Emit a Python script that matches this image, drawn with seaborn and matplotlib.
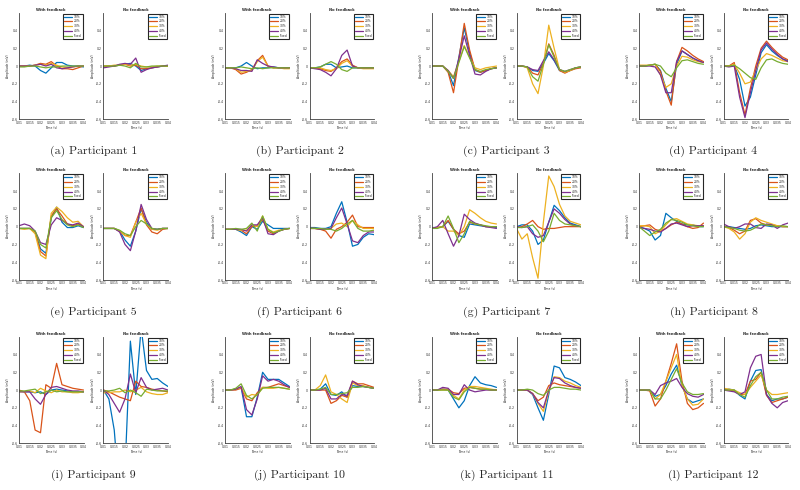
import pandas as pd
import seaborn as sns
import matplotlib.pyplot as plt

# time axis (s), one sample every 2.5 ms
time_s = [0.01, 0.0125, 0.015, 0.0175, 0.02, 0.0225, 0.025, 0.0275, 0.03, 0.0325, 0.035, 0.0375, 0.04]
levels = ['10%', '20%', '30%', '40%', 'Fixed']
captions = ['(a) Participant 1', '(b) Participant 2', '(c) Participant 3', '(d) Participant 4',
            '(e) Participant 5', '(f) Participant 6', '(g) Participant 7', '(h) Participant 8',
            '(i) Participant 9', '(j) Participant 10', '(k) Participant 11', '(l) Participant 12']

# amplitude (mV); rows = 10%, 20%, 30%, 40%, Fixed
p1_with = [
    [0, 0, 0.01, 0, -0.05, -0.08, -0.02, 0.04, 0.04, 0.01, 0, 0, -0.01],
    [0, 0, 0, 0.01, 0.03, 0.02, 0.05, 0.0, -0.03, -0.03, -0.04, -0.02, 0],
    [0, 0, 0, 0.01, 0.02, 0.01, 0.03, 0.01, -0.01, -0.02, -0.01, 0, 0],
    [0, 0, 0, 0.01, 0.02, 0.0, 0.02, -0.02, -0.03, -0.02, -0.01, 0, 0],
    [-0.01, -0.01, 0, 0, -0.01, -0.02, -0.01, -0.01, 0, 0, 0, 0, 0]]
p1_without = [
    [-0.01, 0, 0, 0.01, 0.02, 0.03, 0.0, -0.05, -0.03, -0.02, -0.01, 0, 0],
    [0, 0, 0, 0.01, 0.02, 0.0, 0.01, -0.03, -0.03, -0.02, -0.01, 0, 0],
    [0, 0, 0.01, 0.01, 0.02, 0.01, 0.02, 0.0, -0.01, -0.01, 0, 0, 0],
    [-0.02, -0.01, 0, 0.02, 0.03, 0.02, 0.09, -0.07, -0.04, -0.02, -0.01, 0, 0.01],
    [0, 0, 0, 0.01, 0.0, -0.02, 0.03, -0.01, -0.01, 0, 0, 0, 0]]

p2_with = [
    [-0.02, -0.02, -0.02, 0.0, 0.04, 0.0, -0.03, -0.02, -0.02, -0.01, -0.02, -0.02, -0.02],
    [-0.02, -0.02, -0.04, -0.09, -0.07, -0.04, 0.06, 0.12, 0.0, -0.02, -0.02, -0.02, -0.02],
    [-0.02, -0.02, -0.03, -0.07, -0.06, -0.05, 0.05, 0.10, 0.0, -0.02, -0.02, -0.03, -0.03],
    [-0.02, -0.02, -0.03, -0.05, -0.05, -0.06, 0.07, 0.03, 0.0, -0.01, -0.02, -0.02, -0.02],
    [-0.02, -0.02, -0.02, -0.01, -0.02, -0.03, -0.02, -0.03, -0.02, -0.02, -0.02, -0.02, -0.02]]
p2_without = [
    [-0.02, -0.02, -0.01, 0.02, 0.02, -0.02, -0.01, 0.0, -0.02, -0.02, -0.02, -0.02, -0.02],
    [-0.02, -0.02, -0.03, -0.05, -0.06, -0.02, 0.05, 0.08, 0.01, -0.02, -0.02, -0.02, -0.02],
    [-0.02, -0.02, -0.02, -0.04, -0.05, -0.03, 0.03, 0.06, 0.0, -0.02, -0.03, -0.03, -0.03],
    [-0.02, -0.03, -0.04, -0.07, -0.11, -0.03, 0.12, 0.18, 0.0, -0.02, -0.02, -0.02, -0.02],
    [-0.02, -0.02, -0.01, 0.02, 0.05, 0.02, -0.04, -0.06, -0.02, -0.02, -0.02, -0.02, -0.02]]

p3_with = [
    [0, 0, 0, -0.06, -0.22, 0.1, 0.43, 0.15, -0.05, -0.07, -0.05, -0.03, -0.02],
    [0, 0, 0, -0.07, -0.30, 0.08, 0.48, 0.18, -0.04, -0.07, -0.05, -0.03, -0.02],
    [0, 0, 0, -0.05, -0.12, 0.05, 0.23, 0.10, -0.02, -0.04, -0.02, -0.01, 0.0],
    [0, 0, 0, -0.05, -0.14, 0.08, 0.34, 0.12, -0.09, -0.10, -0.06, -0.03, -0.02],
    [0, 0, 0, -0.06, -0.14, 0.04, 0.22, 0.09, -0.04, -0.06, -0.04, -0.03, -0.02]]
p3_without = [
    [0, 0, -0.01, -0.05, -0.06, 0.03, 0.14, 0.06, -0.05, -0.07, -0.05, -0.02, -0.01],
    [0, 0, -0.01, -0.08, -0.10, 0.03, 0.25, 0.12, -0.05, -0.08, -0.05, -0.03, -0.02],
    [0, 0, -0.02, -0.20, -0.31, 0.0, 0.46, 0.20, -0.04, -0.07, -0.05, -0.02, -0.01],
    [0, 0, -0.01, -0.04, -0.05, 0.06, 0.16, 0.07, -0.04, -0.06, -0.04, -0.02, -0.01],
    [0, 0, -0.01, -0.12, -0.17, 0.02, 0.24, 0.10, -0.04, -0.06, -0.04, -0.02, -0.01]]

p4_with = [
    [0, 0, 0.01, 0.02, -0.05, -0.25, -0.40, 0.02, 0.17, 0.13, 0.09, 0.06, 0.04],
    [0, 0, 0.01, 0.02, -0.06, -0.28, -0.44, 0.05, 0.21, 0.17, 0.12, 0.08, 0.05],
    [0.01, 0.01, 0.01, 0.02, -0.10, -0.24, -0.20, 0.0, 0.11, 0.10, 0.07, 0.05, 0.04],
    [0, 0, 0.0, -0.01, -0.10, -0.30, -0.30, 0.05, 0.17, 0.13, 0.09, 0.06, 0.04],
    [0, 0, 0.01, 0.02, 0.0, -0.08, -0.12, -0.02, 0.06, 0.07, 0.05, 0.03, 0.02]]
p4_without = [
    [0, 0, 0.01, -0.15, -0.45, -0.35, -0.10, 0.15, 0.24, 0.17, 0.12, 0.08, 0.06],
    [0, 0, 0.04, -0.30, -0.55, -0.25, 0.0, 0.20, 0.28, 0.21, 0.15, 0.10, 0.07],
    [0, 0, 0.02, -0.08, -0.20, -0.18, -0.05, 0.08, 0.14, 0.12, 0.09, 0.06, 0.05],
    [0, -0.01, 0.0, -0.35, -0.58, -0.30, -0.05, 0.18, 0.26, 0.19, 0.13, 0.08, 0.05],
    [0, 0, 0.01, -0.03, -0.08, -0.13, -0.15, -0.02, 0.07, 0.08, 0.05, 0.03, 0.02]]

p5_with = [
    [-0.02, -0.02, -0.02, -0.06, -0.25, -0.30, 0.10, 0.22, 0.05, -0.01, -0.01, 0.01, -0.01],
    [-0.02, -0.02, -0.02, -0.06, -0.28, -0.33, 0.12, 0.20, 0.12, 0.03, 0.01, 0.03, 0.0],
    [-0.02, -0.03, -0.02, -0.08, -0.32, -0.36, 0.15, 0.22, 0.17, 0.10, 0.05, 0.06, 0.0],
    [0.01, 0.03, 0.01, -0.05, -0.18, -0.20, 0.02, 0.10, 0.07, 0.03, 0.02, 0.04, 0.0],
    [-0.02, -0.02, -0.02, -0.05, -0.20, -0.24, 0.10, 0.18, 0.08, 0.02, 0.0, 0.02, -0.01]]
p5_without = [
    [-0.02, -0.02, -0.02, -0.05, -0.15, -0.22, -0.05, 0.20, 0.05, -0.03, -0.03, -0.02, -0.02],
    [-0.02, -0.02, -0.02, -0.05, -0.10, -0.10, 0.05, 0.21, 0.02, -0.06, -0.08, -0.03, -0.02],
    [-0.02, -0.02, -0.02, -0.05, -0.10, -0.12, 0.05, 0.15, 0.03, -0.03, -0.04, -0.02, -0.02],
    [-0.02, -0.02, -0.02, -0.06, -0.20, -0.27, -0.05, 0.25, 0.08, -0.02, -0.03, -0.02, -0.02],
    [-0.02, -0.02, -0.02, -0.04, -0.08, -0.10, 0.0, 0.07, 0.03, -0.02, -0.03, -0.02, -0.02]]

p6_with = [
    [-0.03, -0.03, -0.03, -0.06, -0.10, 0.0, -0.03, 0.06, 0.02, -0.02, -0.02, -0.02, -0.02],
    [-0.03, -0.03, -0.03, -0.04, -0.08, 0.0, 0.01, 0.08, -0.05, -0.08, -0.05, -0.03, -0.02],
    [-0.03, -0.03, -0.03, -0.04, -0.04, 0.02, 0.0, 0.12, -0.03, -0.06, -0.04, -0.03, -0.02],
    [-0.03, -0.03, -0.03, -0.03, -0.05, 0.02, 0.02, 0.10, -0.08, -0.09, -0.05, -0.03, -0.02],
    [-0.03, -0.03, -0.02, -0.03, -0.02, 0.04, -0.05, 0.12, -0.03, -0.07, -0.05, -0.03, -0.02]]
p6_without = [
    [-0.01, -0.01, -0.02, -0.02, 0.0, 0.15, 0.28, 0.05, -0.22, -0.20, -0.12, -0.08, -0.09],
    [-0.02, -0.02, -0.03, -0.05, -0.13, -0.03, 0.0, 0.05, 0.13, 0.0, -0.01, -0.01, -0.01],
    [-0.02, -0.02, -0.03, -0.03, -0.02, 0.03, 0.04, 0.0, 0.07, 0.02, -0.02, -0.02, -0.02],
    [-0.02, -0.02, -0.03, -0.03, -0.02, 0.10, 0.21, 0.03, -0.16, -0.18, -0.10, -0.06, -0.06],
    [-0.02, -0.02, -0.02, -0.03, -0.03, -0.05, -0.02, 0.03, 0.07, -0.02, -0.05, -0.05, -0.04]]

p7_with = [
    [-0.01, -0.01, 0.0, 0.06, -0.03, -0.10, -0.12, 0.03, 0.02, 0.01, 0.0, 0.0, -0.01],
    [-0.02, -0.01, 0.0, 0.07, -0.03, -0.08, -0.05, 0.05, 0.03, 0.02, 0.0, 0.0, 0.0],
    [-0.02, -0.01, 0.0, -0.05, -0.05, -0.10, 0.0, 0.19, 0.15, 0.10, 0.06, 0.04, 0.03],
    [-0.02, 0.0, 0.07, -0.08, -0.22, -0.10, 0.14, 0.08, 0.04, 0.02, 0.0, -0.01, -0.02],
    [-0.02, -0.02, 0.0, 0.12, -0.02, -0.18, -0.08, 0.06, 0.03, 0.02, 0.01, 0.0, 0.0]]
p7_without = [
    [0.0, 0.02, 0.02, -0.05, -0.20, -0.15, 0.05, 0.24, 0.18, 0.10, 0.04, 0.02, 0.0],
    [-0.01, 0.0, 0.03, 0.07, 0.0, -0.03, -0.02, -0.02, -0.01, 0.0, 0.0, 0.0, 0.0],
    [-0.02, -0.14, -0.08, -0.35, -0.58, 0.05, 0.57, 0.45, 0.25, 0.12, 0.06, 0.04, 0.02],
    [0.0, -0.01, 0.0, -0.08, -0.12, -0.10, 0.05, 0.20, 0.15, 0.08, 0.03, 0.01, 0.0],
    [-0.01, -0.01, 0.0, 0.02, -0.05, -0.17, -0.05, 0.15, 0.07, 0.03, 0.02, 0.01, 0.0]]

p8_with = [
    [0.0, -0.02, -0.05, -0.15, -0.10, 0.15, 0.10, 0.06, 0.03, 0.02, 0.02, 0.0, 0.0],
    [0.0, 0.01, 0.02, -0.03, -0.05, -0.02, 0.02, 0.05, 0.03, 0.0, -0.02, -0.01, 0.04],
    [0.01, 0.01, 0.0, -0.08, -0.05, 0.02, 0.08, 0.09, 0.06, 0.03, 0.02, 0.01, 0.01],
    [-0.01, -0.02, -0.03, -0.05, -0.06, -0.02, 0.03, 0.04, 0.02, 0.0, 0.01, 0.01, 0.01],
    [0.0, -0.05, -0.10, -0.06, -0.03, 0.04, 0.08, 0.07, 0.05, 0.02, 0.01, 0.0, 0.0]]
p8_without = [
    [0.0, 0.0, -0.01, -0.02, -0.03, -0.02, 0.01, 0.02, 0.01, 0.0, 0.0, 0.0, 0.0],
    [0.0, -0.01, -0.04, -0.08, -0.05, 0.07, 0.09, 0.04, 0.02, 0.02, 0.01, 0.0, 0.0],
    [0.0, -0.02, -0.06, -0.14, -0.08, 0.05, 0.10, 0.07, 0.05, 0.03, 0.01, 0.0, 0.0],
    [0.03, 0.0, -0.02, 0.0, 0.03, 0.03, -0.01, -0.02, 0.03, 0.02, -0.02, 0.02, 0.04],
    [0.0, -0.01, -0.02, -0.04, -0.05, -0.04, -0.01, 0.03, 0.02, 0.01, 0.0, 0.01, 0.0]]

p9_with = [
    [-0.01, -0.02, -0.02, -0.03, -0.02, -0.05, 0.0, 0.01, 0.0, -0.01, -0.02, -0.02, -0.02],
    [0.0, -0.02, -0.12, -0.45, -0.48, 0.06, 0.02, 0.30, 0.06, 0.04, 0.02, 0.01, 0.0],
    [-0.02, -0.02, -0.01, -0.03, 0.02, -0.01, -0.03, 0.0, -0.02, -0.02, -0.03, -0.03, -0.02],
    [-0.02, -0.02, -0.02, -0.10, -0.16, -0.05, 0.03, 0.04, 0.02, 0.0, -0.01, -0.01, -0.02],
    [-0.01, -0.01, 0.0, 0.01, -0.04, -0.02, 0.0, -0.02, -0.01, -0.02, -0.02, -0.02, -0.02]]
p9_without = [
    [0.0, -0.10, -0.45, -1.20, -0.90, 0.55, -0.05, 0.70, 0.22, 0.12, 0.13, 0.08, 0.04],
    [0.0, -0.02, -0.05, -0.08, -0.10, -0.12, 0.10, 0.04, 0.03, 0.01, 0.0, -0.01, -0.02],
    [-0.03, -0.03, -0.02, -0.02, 0.0, -0.02, 0.0, 0.03, -0.02, -0.04, -0.05, -0.05, -0.03],
    [0.0, -0.05, -0.15, -0.25, -0.10, 0.18, -0.03, 0.14, 0.03, 0.0, 0.01, 0.02, 0.0],
    [-0.01, -0.01, 0.0, 0.02, -0.03, 0.0, -0.03, -0.07, 0.01, 0.0, -0.01, -0.01, -0.01]]

p10_with = [
    [0.0, 0.0, 0.01, 0.03, -0.30, -0.30, -0.08, 0.20, 0.12, 0.12, 0.12, 0.08, 0.04],
    [0.0, 0.0, 0.0, 0.02, -0.10, -0.12, -0.03, 0.03, 0.03, 0.05, 0.07, 0.05, 0.03],
    [0.0, 0.0, 0.01, 0.03, -0.08, -0.05, -0.06, 0.03, 0.02, 0.02, 0.03, 0.02, 0.01],
    [0.0, 0.0, 0.01, 0.04, -0.22, -0.28, -0.10, 0.16, 0.10, 0.12, 0.10, 0.06, 0.03],
    [0.0, 0.0, 0.02, 0.07, -0.06, -0.10, -0.05, 0.02, 0.03, 0.03, 0.03, 0.02, 0.01]]
p10_without = [
    [0.0, 0.0, 0.01, 0.07, -0.05, -0.06, -0.02, -0.08, 0.05, 0.04, 0.04, 0.03, 0.02],
    [0.0, 0.0, 0.0, 0.0, -0.15, -0.12, -0.06, -0.08, 0.10, 0.07, 0.07, 0.05, 0.03],
    [0.0, 0.0, 0.05, 0.17, -0.02, -0.05, -0.10, -0.14, 0.08, 0.05, 0.05, 0.03, 0.02],
    [0.0, 0.0, 0.0, 0.02, -0.10, -0.10, -0.05, -0.06, 0.10, 0.06, 0.04, 0.03, 0.02],
    [0.0, 0.0, 0.01, 0.03, -0.05, -0.05, -0.04, -0.03, 0.03, 0.03, 0.04, 0.03, 0.02]]

p11_with = [
    [0.0, 0.0, 0.01, 0.0, -0.10, -0.20, -0.12, 0.05, 0.15, 0.08, 0.06, 0.05, 0.03],
    [0.0, 0.0, 0.01, 0.01, -0.03, -0.04, 0.02, 0.03, 0.02, 0.01, 0.01, 0.0, 0.0],
    [0.0, 0.0, 0.0, 0.0, -0.06, -0.10, 0.0, 0.04, 0.04, 0.03, 0.02, 0.01, 0.0],
    [0.0, 0.0, 0.03, 0.02, -0.05, -0.05, 0.06, 0.0, -0.02, -0.01, 0.0, 0.0, 0.0],
    [0.0, 0.0, 0.0, 0.0, -0.08, -0.11, -0.02, 0.03, 0.02, 0.01, 0.01, 0.0, 0.0]]
p11_without = [
    [0.0, 0.0, 0.0, -0.05, -0.20, -0.34, -0.05, 0.27, 0.25, 0.14, 0.12, 0.09, 0.05],
    [0.0, 0.0, 0.0, -0.04, -0.12, -0.08, 0.05, 0.08, 0.06, 0.05, 0.04, 0.03, 0.02],
    [0.0, 0.0, 0.0, -0.04, -0.15, -0.24, -0.02, 0.15, 0.14, 0.10, 0.08, 0.05, 0.03],
    [0.0, 0.0, 0.0, -0.04, -0.14, -0.20, 0.0, 0.14, 0.13, 0.08, 0.05, 0.03, 0.02],
    [0.0, 0.0, 0.01, 0.0, -0.04, -0.06, 0.0, 0.03, 0.03, 0.02, 0.01, 0.01, 0.0]]

p12_with = [
    [0.0, 0.0, 0.0, -0.07, -0.05, 0.05, 0.18, 0.28, 0.05, -0.10, -0.14, -0.12, -0.10],
    [0.0, 0.0, -0.01, -0.18, -0.10, 0.10, 0.30, 0.52, 0.10, -0.15, -0.22, -0.20, -0.15],
    [0.0, 0.0, 0.0, -0.10, -0.05, 0.10, 0.25, 0.40, 0.05, -0.10, -0.17, -0.16, -0.10],
    [0.0, 0.0, 0.0, -0.05, 0.05, 0.08, 0.10, 0.13, 0.03, -0.04, -0.07, -0.08, -0.05],
    [0.0, 0.0, 0.0, -0.10, -0.10, 0.0, 0.12, 0.24, 0.08, -0.02, -0.05, -0.05, -0.04]]
p12_without = [
    [0.0, 0.01, 0.0, -0.06, -0.10, 0.10, 0.22, 0.23, -0.05, -0.12, -0.10, -0.10, -0.08],
    [0.0, 0.0, -0.01, -0.05, -0.05, 0.10, 0.12, 0.20, -0.06, -0.14, -0.12, -0.10, -0.08],
    [0.02, 0.01, 0.0, -0.03, -0.05, 0.03, 0.10, 0.17, 0.0, -0.05, -0.05, -0.04, -0.03],
    [0.0, -0.01, -0.02, -0.05, -0.02, 0.25, 0.38, 0.40, -0.05, -0.15, -0.20, -0.14, -0.12],
    [0.0, 0.0, 0.0, -0.05, -0.08, 0.05, 0.15, 0.20, 0.0, -0.10, -0.10, -0.08, -0.07]]

participants = [
    (p1_with, p1_without), (p2_with, p2_without), (p3_with, p3_without), (p4_with, p4_without),
    (p5_with, p5_without), (p6_with, p6_without), (p7_with, p7_without), (p8_with, p8_without),
    (p9_with, p9_without), (p10_with, p10_without), (p11_with, p11_without), (p12_with, p12_without)]

# MATLAB default line colours
matlab_colors = ['#0072BD', '#D95319', '#EDB120', '#7E2F8E', '#77AC30']
xticks = [0.01, 0.015, 0.02, 0.025, 0.03, 0.035, 0.04]
xtick_labels = ['0.01', '0.015', '0.02', '0.025', '0.03', '0.035', '0.04']
yticks = [-0.6, -0.4, -0.2, 0, 0.2, 0.4]
ytick_labels = ['-0.6', '-0.4', '-0.2', '0', '0.2', '0.4']


def to_long(rows):
    frames = []
    for lvl, vals in zip(levels, rows):
        frames.append(pd.DataFrame({'Time': time_s, 'Amplitude': vals, 'Level': lvl}))
    return pd.concat(frames, ignore_index=True)


sns.set_style('white')
plt.rcParams['font.family'] = ['DejaVu Sans']

W, H = 800, 490
fig = plt.figure(figsize=(8, 4.9), dpi=100)

block_left = [19, 225, 432, 639]
row_top = [12.7, 173.3, 336.7]
ax_w, ax_h, pair_gap = 64.5, 106.7, 84.5

for i, (with_fb, no_fb) in enumerate(participants):
    row, col = divmod(i, 4)
    for k, (rows, title) in enumerate([(with_fb, 'With feedback'), (no_fb, 'No feedback')]):
        x0 = block_left[col] + k * pair_gap
        y0 = row_top[row]
        ax = fig.add_axes([x0 / W, 1 - (y0 + ax_h) / H, ax_w / W, ax_h / H])
        sns.lineplot(data=to_long(rows), x='Time', y='Amplitude', hue='Level',
                     hue_order=levels, palette=matlab_colors, linewidth=0.9,
                     errorbar=None, sort=False, ax=ax)
        ax.set_xlim(0.01, 0.04)
        ax.set_ylim(-0.6, 0.6)
        ax.set_xticks(xticks)
        ax.set_xticklabels(xtick_labels)
        ax.set_yticks(yticks)
        ax.set_yticklabels(ytick_labels)
        ax.tick_params(direction='in', length=1.2, width=0.4, labelsize=2.2, pad=1,
                       colors='#262626')
        for side in ['top', 'right']:
            ax.spines[side].set_visible(False)
        for side in ['left', 'bottom']:
            ax.spines[side].set_color('#404040')
            ax.spines[side].set_linewidth(0.6)
        ax.set_title(title, fontsize=2.6, fontweight='bold', pad=1.5)
        ax.set_xlabel('Time (s)', fontsize=2.2, labelpad=0.8)
        ax.set_ylabel('Amplitude (mV)', fontsize=2.2, labelpad=0.8)
        sns.move_legend(ax, 'upper right', title=None, fontsize=2.2, frameon=True,
                        fancybox=False, edgecolor='#262626', framealpha=1,
                        handlelength=2.6, labelspacing=0.25, borderpad=0.35,
                        borderaxespad=0.3, handletextpad=0.5)
        leg = ax.get_legend()
        leg.get_frame().set_linewidth(0.8)
        for line in leg.get_lines():
            line.set_linewidth(0.9)

    cx = block_left[col] + (pair_gap + ax_w) / 2
    cy = row_top[row] + ax_h + 32
    fig.text(cx / W, 1 - cy / H, captions[i], ha='center', va='center',
             fontsize=8.5, family=['cmr10', 'DejaVu Serif'])

fig.savefig('out.png', dpi=100)
